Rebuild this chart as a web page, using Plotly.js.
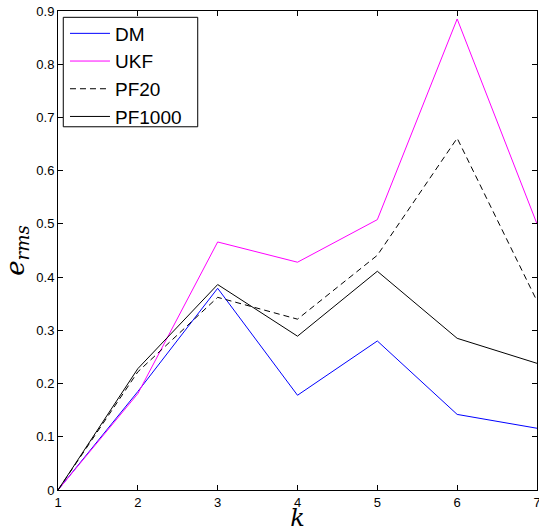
<!DOCTYPE html>
<html>
<head>
<meta charset="utf-8">
<script src="https://cdn.plot.ly/plotly-3.0.1.min.js"></script>
<style>html,body{margin:0;padding:0;background:#fff;}#chart{width:539px;height:532px;}</style>
</head>
<body>
<div id="chart"></div>
<script>
const k = [1, 2, 3, 4, 5, 6, 7];
const dm = [0, 0.185, 0.379, 0.178, 0.280, 0.142, 0.116];
const ukf = [0, 0.181, 0.466, 0.428, 0.508, 0.885, 0.500];
const pf20 = [0, 0.222, 0.362, 0.321, 0.441, 0.661, 0.355];
const pf1000 = [0, 0.228, 0.386, 0.289, 0.411, 0.285, 0.238];
const names = ["DM", "UKF", "PF20", "PF1000"];
const xTicks = [1, 2, 3, 4, 5, 6, 7];
const yTicks = [0, 0.1, 0.2, 0.3, 0.4, 0.5, 0.6, 0.7, 0.8, 0.9];

const traces = [
  {x: k, y: dm, name: names[0], mode: "lines", line: {color: "#0000ff", width: 1}},
  {x: k, y: ukf, name: names[1], mode: "lines", line: {color: "#ff00ff", width: 1}},
  {x: k, y: pf20, name: names[2], mode: "lines", line: {color: "#000000", width: 1, dash: "6px,4px"}},
  {x: k, y: pf1000, name: names[3], mode: "lines", line: {color: "#000000", width: 1}}
];

const axisCommon = {
  showline: true, linecolor: "#000", linewidth: 1, mirror: "ticks",
  ticks: "inside", ticklen: 5, tickcolor: "#000", tickwidth: 1,
  showgrid: false, zeroline: false, ticklabeloverflow: "allow",
  tickfont: {family: "Liberation Sans, Arial, sans-serif", size: 13, color: "#000"}
};

const layout = {
  width: 539, height: 532,
  margin: {l: 58, r: 2, t: 11, b: 42},
  paper_bgcolor: "#fff", plot_bgcolor: "#fff",
  showlegend: true,
  legend: {
    x: 0.0146, y: 0.9927, xanchor: "left", yanchor: "top",
    bgcolor: "rgba(255,255,255,0)", borderwidth: 0, itemwidth: 40,
    font: {family: "Liberation Sans, Arial, sans-serif", size: 19, color: "#000"},
    tracegroupgap: 0
  },
  shapes: [{
    type: "rect", xref: "paper", yref: "paper", layer: "below",
    x0: 0.011, x1: 0.2917, y0: 0.7583, y1: 0.9868,
    line: {color: "#000", width: 1}, fillcolor: "#fff"
  }],
  xaxis: Object.assign({}, axisCommon, {
    range: [1, 7], tickvals: xTicks, ticktext: xTicks.map(String), automargin: false,
    title: {text: "<i>k</i>", font: {family: "DejaVu Serif, Liberation Serif, serif", size: 24, color: "#000"}}
  }),
  yaxis: Object.assign({}, axisCommon, {
    range: [0, 0.9], tickvals: yTicks, ticktext: yTicks.map(v => v === 0 ? "0" : String(v)),
    title: {text: "<i>e<sub>rms</sub></i>", standoff: 8, font: {family: "DejaVu Serif, Liberation Serif, serif", size: 26, color: "#000"}}
  })
};

Plotly.newPlot("chart", traces, layout, {displayModeBar: false, staticPlot: true});
</script>
</body>
</html>
